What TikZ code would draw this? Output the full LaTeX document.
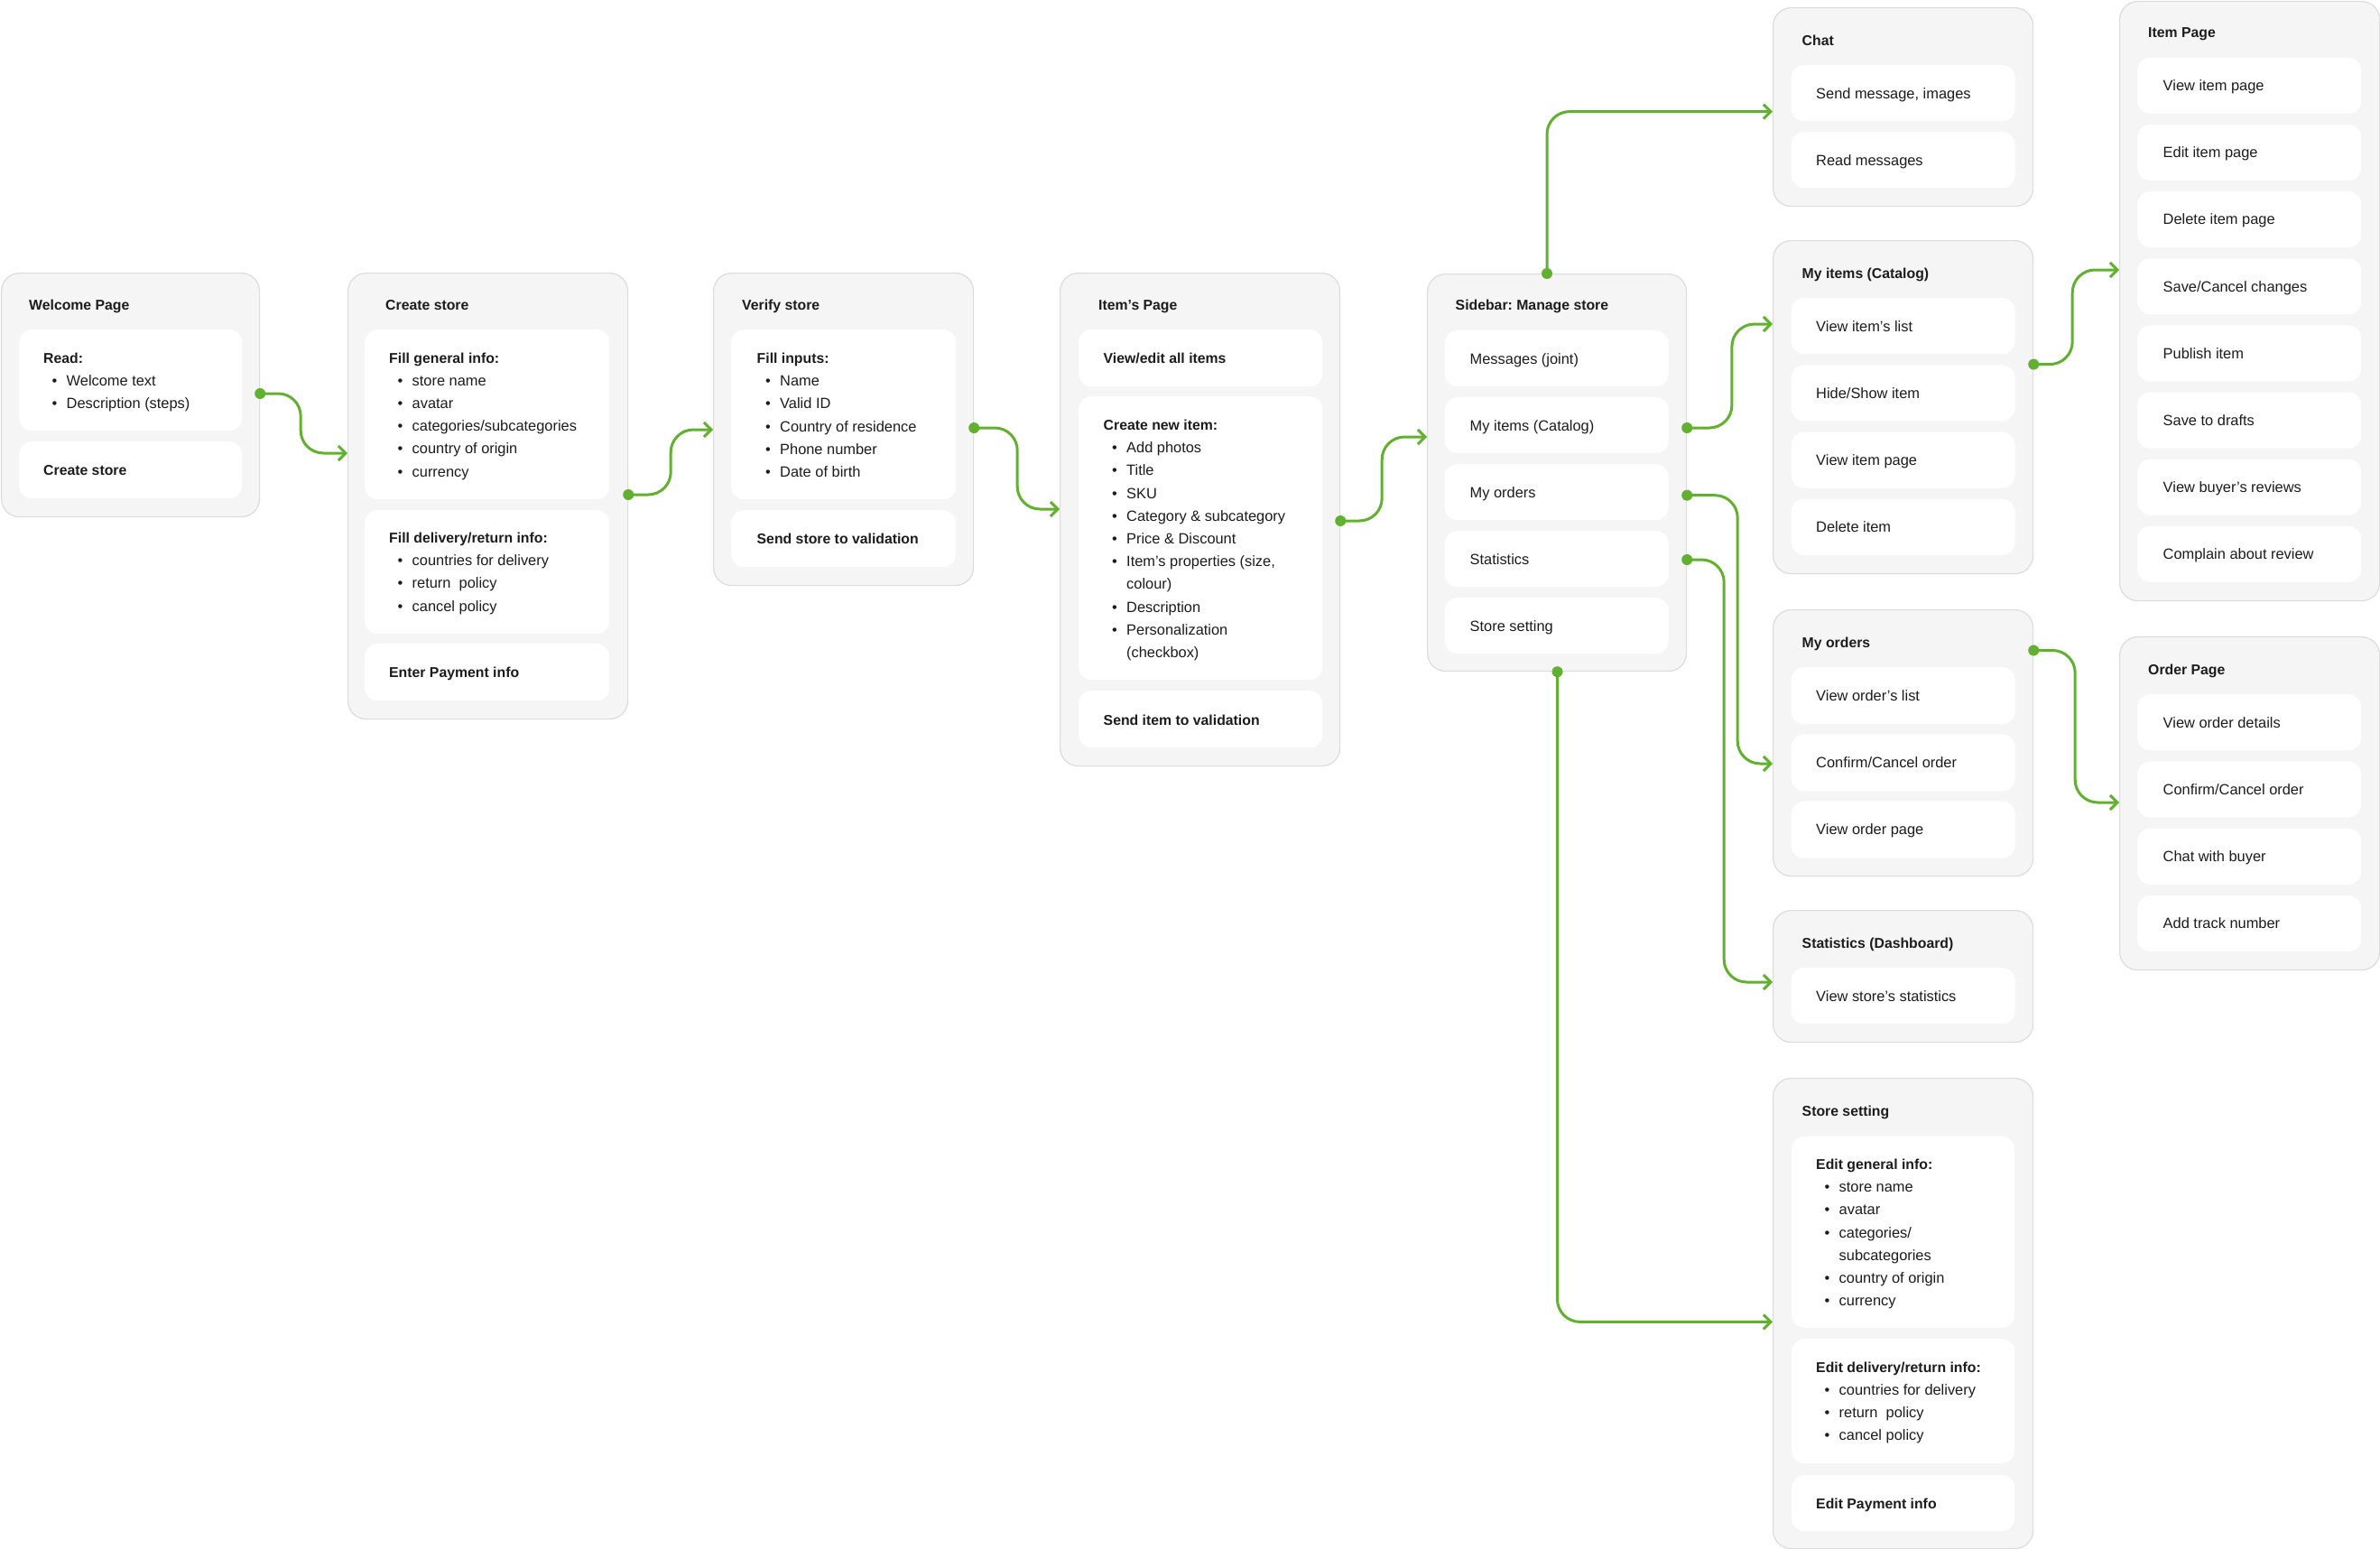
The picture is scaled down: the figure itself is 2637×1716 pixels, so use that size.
\documentclass[tikz,border=0pt]{standalone}
\usepackage{fontspec}
\setmainfont{Liberation Sans}
\frenchspacing
\usetikzlibrary{arrows.meta}
\definecolor{grn}{HTML}{62B030}
\definecolor{boxbg}{HTML}{F5F5F5}
\definecolor{boxline}{HTML}{DCDCDC}
\definecolor{ink}{HTML}{1C1C1C}
\tikzset{
  outer/.style={draw=boxline, line width=1.2pt, fill=boxbg, rounded corners=20pt, inner sep=0pt, anchor=north west},
  inner/.style={fill=white, rounded corners=14pt, inner sep=0pt, anchor=north west},
  txt/.style={anchor=base west, inner sep=0pt, text=ink, font=\fontsize{16.4}{20}\selectfont},
  bld/.style={anchor=base west, inner sep=0pt, text=ink, font=\fontsize{15.8}{20}\selectfont\bfseries},
  dot/.style={circle, fill=grn, inner sep=0pt, minimum size=12pt},
  conn/.style={draw=grn, line width=3pt, rounded corners=25pt, -{Straight Barb[length=8pt,width=16pt]}}
}
\newcommand\OBox[5]{\node[outer, minimum width=#4pt, minimum height=#5pt] (#1) at (#2,#3) {};}
\newcommand\IBox[5]{\node[inner, minimum width=#4pt, minimum height=#5pt] (#1) at (#2,#3) {};}
\newcommand\TTitle[4]{\node[bld] (#1) at (#2,#3+6) {#4};}
\newcommand\TBold[4]{\node[bld] (#1) at (#2,#3+6) {#4};}
\newcommand\TLine[4]{\node[txt] (#1) at (#2,#3+6) {#4};}
\newcommand\TBul[4]{\node[txt] (#1) at (#2+9.5,#3+6) {\makebox[16pt][l]{•}#4};}
\newcommand\TCont[4]{\node[txt] (#1) at (#2+25.5,#3+6) {#4};}
\begin{document}
\begin{tikzpicture}[x=1pt,y=-1pt]
\useasboundingbox (0,0) rectangle (2637,1716);
\fill[white] (0,0) rectangle (2637,1716);

% ---------- Welcome Page
\OBox{wp}{1}{302}{286}{270}
\TTitle{wpT}{32}{337}{Welcome Page}
\IBox{wp1}{21}{365}{247}{112}
\TBold{wp1a}{48}{396}{Read:}
\TBul{wp1b}{48}{421}{Welcome text}
\TBul{wp1c}{48}{446}{Description (steps)}
\IBox{wp2}{21}{489}{247}{63}
\TBold{wp2a}{48}{520}{Create store}

% ---------- Create store
\OBox{cs}{385}{302}{310}{494}
\TTitle{csT}{427}{337}{Create store}
\IBox{cs1}{404}{365}{271}{188}
\TBold{cs1a}{431}{396}{Fill general info:}
\TBul{cs1b}{431}{421.2}{store name}
\TBul{cs1c}{431}{446.4}{avatar}
\TBul{cs1d}{431}{471.6}{categories/subcategories}
\TBul{cs1e}{431}{496.8}{country of origin}
\TBul{cs1f}{431}{522}{currency}
\IBox{cs2}{404}{565}{271}{137}
\TBold{cs2a}{431}{595.5}{Fill delivery/return info:}
\TBul{cs2b}{431}{620.7}{countries for delivery}
\TBul{cs2c}{431}{645.9}{return\ \ policy}
\TBul{cs2d}{431}{671.1}{cancel policy}
\IBox{cs3}{404}{713}{271}{63}
\TBold{cs3a}{431}{744.5}{Enter Payment info}

% ---------- Verify store
\OBox{vs}{790}{302}{288}{346}
\TTitle{vsT}{822}{337}{Verify store}
\IBox{vs1}{810}{365}{249}{188}
\TBold{vs1a}{838.5}{396.5}{Fill inputs:}
\TBul{vs1b}{838.5}{421.7}{Name}
\TBul{vs1c}{838.5}{446.9}{Valid ID}
\TBul{vs1d}{838.5}{472.1}{Country of residence}
\TBul{vs1e}{838.5}{497.3}{Phone number}
\TBul{vs1f}{838.5}{522.5}{Date of birth}
\IBox{vs2}{810}{565}{249}{63}
\TBold{vs2a}{838.5}{596.5}{Send store to validation}

% ---------- Item's Page
\OBox{ip}{1174}{302}{310}{546}
\TTitle{ipT}{1217}{337}{Item’s Page}
\IBox{ip1}{1195}{365}{270}{63}
\TBold{ip1a}{1222.5}{396.5}{View/edit all items}
\IBox{ip2}{1195}{439}{270}{314}
\TBold{ip2a}{1222.5}{470.5}{Create new item:}
\TBul{ip2b}{1222.5}{495.7}{Add photos}
\TBul{ip2c}{1222.5}{520.9}{Title}
\TBul{ip2d}{1222.5}{546.1}{SKU}
\TBul{ip2e}{1222.5}{571.3}{Category \& subcategory}
\TBul{ip2f}{1222.5}{596.5}{Price \& Discount}
\TBul{ip2g}{1222.5}{621.7}{Item’s properties (size,}
\TCont{ip2h}{1222.5}{646.9}{colour)}
\TBul{ip2i}{1222.5}{672.1}{Description}
\TBul{ip2j}{1222.5}{697.3}{Personalization}
\TCont{ip2k}{1222.5}{722.5}{(checkbox)}
\IBox{ip3}{1195}{765}{270}{63}
\TBold{ip3a}{1222.5}{797}{Send item to validation}

% ---------- Sidebar
\OBox{sb}{1581}{303}{287}{440}
\TTitle{sbT}{1612.5}{337}{Sidebar: Manage store}
\foreach \t [count=\i] in {Messages (joint), My items (Catalog), My orders, Statistics, Store setting}{
  \node[inner, minimum width=248pt, minimum height=62pt] (sb\i) at (1600.5,{366+74*(\i-1)}) {};
  \node[txt] (sbt\i) at (1628.5,{366+74*(\i-1)+31+6}) {\t};
}

% ---------- Chat
\OBox{ch}{1964}{8}{288}{220}
\TTitle{chT}{1996.5}{44}{Chat}
\IBox{ch1}{1984.4}{72}{248}{62}
\TLine{ch1a}{2012}{103}{Send message, images}
\IBox{ch2}{1984.4}{146}{248}{62}
\TLine{ch2a}{2012}{177}{Read messages}

% ---------- My items
\OBox{mi}{1964}{266}{288}{369}
\TTitle{miT}{1996.5}{302}{My items (Catalog)}
\foreach \t [count=\i] in {View item’s list, Hide/Show item, View item page, Delete item}{
  \node[inner, minimum width=248pt, minimum height=62pt] (mi\i) at (1984.4,{330+74.2*(\i-1)}) {};
  \node[txt] (mit\i) at (2012,{330+74.2*(\i-1)+31+6}) {\t};
}

% ---------- My orders
\OBox{mo}{1964}{675}{288}{295}
\TTitle{moT}{1996.5}{711.5}{My orders}
\foreach \t [count=\i] in {View order’s list, Confirm/Cancel order, View order page}{
  \node[inner, minimum width=248pt, minimum height=63pt] (mo\i) at (1984.4,{739+74.2*(\i-1)}) {};
  \node[txt] (mot\i) at (2012,{739+74.2*(\i-1)+31.5+6}) {\t};
}

% ---------- Statistics
\OBox{st}{1964}{1008}{288}{146}
\TTitle{stT}{1996.5}{1044}{Statistics (Dashboard)}
\IBox{st1}{1984.4}{1072}{248}{62}
\TLine{st1a}{2012}{1103}{View store’s statistics}

% ---------- Store setting
\OBox{ss}{1964}{1194}{288}{521}
\TTitle{ssT}{1996.5}{1230}{Store setting}
\IBox{ss1}{1985}{1258.6}{247}{212}
\TBold{ss1a}{2012}{1289.4}{Edit general info:}
\TBul{ss1b}{2012}{1314.6}{store name}
\TBul{ss1c}{2012}{1339.8}{avatar}
\TBul{ss1d}{2012}{1365}{categories/}
\TCont{ss1e}{2012}{1390.2}{subcategories}
\TBul{ss1f}{2012}{1415.4}{country of origin}
\TBul{ss1g}{2012}{1440.6}{currency}
\IBox{ss2}{1985}{1483}{247}{138}
\TBold{ss2a}{2012}{1514}{Edit delivery/return info:}
\TBul{ss2b}{2012}{1539.2}{countries for delivery}
\TBul{ss2c}{2012}{1564.4}{return\ \ policy}
\TBul{ss2d}{2012}{1589.6}{cancel policy}
\IBox{ss3}{1985}{1634}{247}{62}
\TBold{ss3a}{2012}{1665}{Edit Payment info}

% ---------- Item Page
\OBox{itp}{2348}{1}{288}{664}
\TTitle{itpT}{2380}{35.5}{Item Page}
\foreach \t [count=\i] in {View item page, Edit item page, Delete item page, Save/Cancel changes, Publish item, Save to drafts, View buyer’s reviews, Complain about review}{
  \node[inner, minimum width=248pt, minimum height=62pt] (itp\i) at (2368,{63.6+74.15*(\i-1)}) {};
  \node[txt] (itpt\i) at (2396.5,{63.6+74.15*(\i-1)+31+6}) {\t};
}

% ---------- Order Page
\OBox{op}{2348}{705}{288}{369}
\TTitle{opT}{2380}{741.5}{Order Page}
\foreach \t [count=\i] in {View order details, Confirm/Cancel order, Chat with buyer, Add track number}{
  \node[inner, minimum width=248pt, minimum height=62pt] (op\i) at (2368,{769+74.3*(\i-1)}) {};
  \node[txt] (opt\i) at (2396.5,{769+74.3*(\i-1)+31+6}) {\t};
}

% ---------- dots
\coordinate (pA) at (wp.east |- 0,436);
\coordinate (pB) at (cs.east |- 0,548);
\coordinate (pC) at (vs.east |- 0,474);
\coordinate (pD) at (ip.east |- 0,577);
\coordinate (pE) at (1714,0 |- sb.north);
\coordinate (pF) at (sb.east |- 0,474);
\coordinate (pG) at (sb.east |- 0,548.7);
\coordinate (pH) at (sb.east |- 0,620);
\coordinate (pI) at (1725.5,0 |- sb.south);
\coordinate (pJ) at (mi.east |- 0,403.6);
\coordinate (pK) at (mo.east |- 0,720.5);

% ---------- connectors
\draw[conn] (pA) -- ++(45,0) |- (cs.west |- 0,502);
\draw[conn] (pB) -- ++(47,0) |- (vs.west |- 0,476);
\draw[conn] (pC) -- ++(48,0) |- (ip.west |- 0,564);
\draw[conn] (pD) -- ++(46,0) |- (sb.west |- 0,484);
\draw[conn] (pE) |- (ch.west |- 0,123.6);
\draw[conn] (pF) -- ++(49.7,0) |- (mi.west |- 0,359);
\draw[conn] (pG) -- ++(56,0) |- (mo.west |- 0,846);
\draw[conn] (pH) -- ++(41,0) |- (st.west |- 0,1088);
\draw[conn] (pI) |- (ss.west |- 0,1464.4);
\draw[conn] (pJ) -- ++(43,0) |- (itp.west |- 0,299);
\draw[conn] (pK) -- ++(46,0) |- (op.west |- 0,889);

\foreach \p in {A,B,C,D,E,F,G,H,I,J,K}{ \node[dot] (dot\p) at (p\p) {}; }
\end{tikzpicture}
\end{document}
